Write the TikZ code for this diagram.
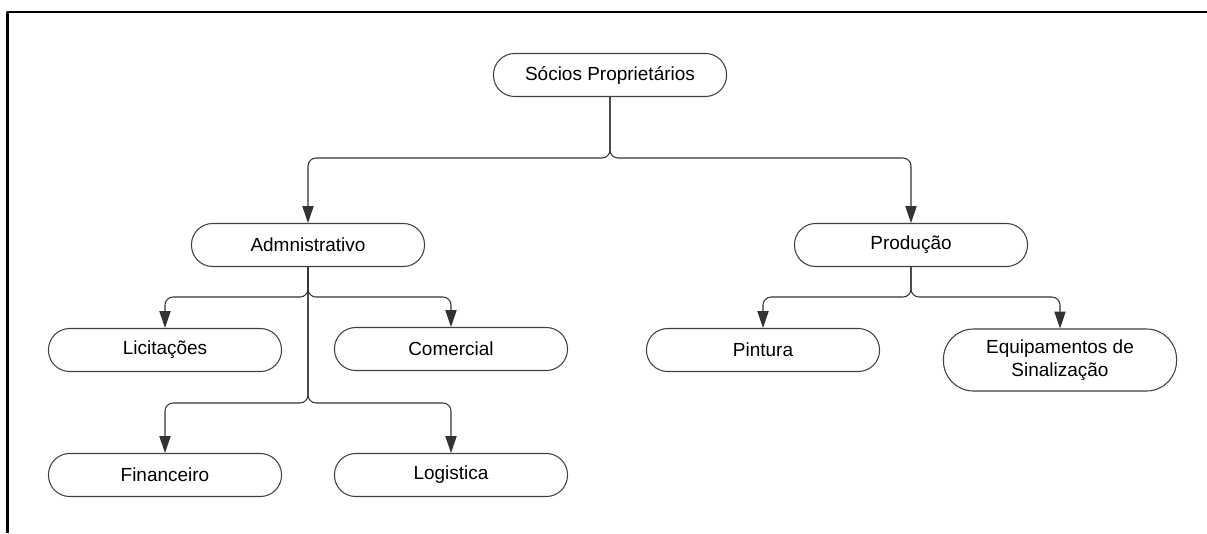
\documentclass[tikz,border=0pt]{standalone}
\usepackage{fontspec}
\setmainfont{Liberation Sans}
\usetikzlibrary{arrows.meta,positioning}

\tikzset{
  unit/.style={draw=black!75,line width=.75pt,fill=white,rounded corners=.53cm,
    minimum width=5.825cm,minimum height=1.075cm,inner sep=2pt,align=center,
    font=\fontsize{13.5}{16.4}\selectfont},
  link/.style={draw=black!80,line width=.75pt,rounded corners=.2cm,
    -{Triangle[length=12pt,width=8pt]}}
}

\begin{document}
\begin{tikzpicture}[x=0.025cm,y=-0.025cm,line cap=round,line join=round]
\path[use as bounding box] (0,0) rectangle (1207,533);
\draw[black,line width=1.5pt,line cap=butt] (7.5,533) -- (7.5,12) -- (1207,12);
% nodes
\node[unit] (socios) at (610,75) {Sócios Proprietários};
\node[unit] (adm) at (308,245) {Admnistrativo};
\node[unit] (prod) at (911,245) {Produção};
\node[unit] (licit) at (165,350) {Licitações};
\node[unit] (comerc) at (451,349) {Comercial};
\node[unit] (financ) at (165,475) {Financeiro};
\node[unit] (logist) at (451,475) {Logistica};
\node[unit] (pint) at (763,350) {Pintura};
\node[unit,minimum height=1.55cm,rounded corners=.75cm] (equip) at (1060,360) {Equipamentos de\\Sinalização};
% junctions
\coordinate (sj) at (610,158);
\coordinate (aj) at (308,297);
\coordinate (aj2) at (308,403);
\coordinate (pj) at (911,297);
% connectors
\draw[link] (socios.south) -- (sj) -| (adm.north);
\draw[link] (socios.south) -- (sj) -| (prod.north);
\draw[link] (adm.south) -- (aj) -| (licit.north);
\draw[link] (adm.south) -- (aj) -| (comerc.north);
\draw[link] (adm.south) -- (aj2) -| (financ.north);
\draw[link] (adm.south) -- (aj2) -| (logist.north);
\draw[link] (prod.south) -- (pj) -| (pint.north);
\draw[link] (prod.south) -- (pj) -| (equip.north);
\end{tikzpicture}
\end{document}
